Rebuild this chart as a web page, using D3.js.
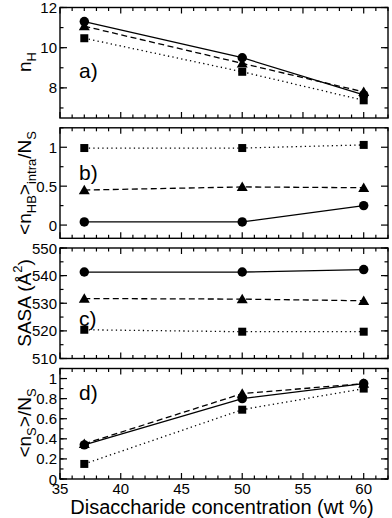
<!DOCTYPE html>
<html>
<head>
<meta charset="utf-8">
<script src="https://cdn.jsdelivr.net/npm/d3@7"></script>
<style>
  body { margin: 0; background: #fff; }
  text { font-family: "Liberation Sans", Arial, sans-serif; fill: #000; }
</style>
</head>
<body>
<svg id="chart" width="392" height="518"></svg>
<script>
// concentrations (wt %)
var conc = [37, 50, 60];

// a) n_H
var nH_circle   = [11.3, 9.5, 7.65];
var nH_triangle = [11.07, 9.22, 7.8];
var nH_square   = [10.47, 8.8, 7.38];

// b) <n_HB>_intra / N_S
var hb_circle   = [0.04, 0.04, 0.25];
var hb_triangle = [0.45, 0.49, 0.48];
var hb_square   = [0.99, 0.99, 1.03];

// c) SASA
var sasa_circle   = [541.3, 541.3, 542.2];
var sasa_triangle = [531.7, 531.5, 530.9];
var sasa_square   = [520.4, 519.7, 519.7];

// d) <n_S> / N_S
var ns_circle   = [0.34, 0.80, 0.95];
var ns_triangle = [0.35, 0.85, 0.95];
var ns_square   = [0.15, 0.69, 0.90];

var xTicks = [35, 40, 45, 50, 55, 60];

var svg = d3.select('#chart');
var left = 60, right = 388, panel_h = 110.5;

var x = d3.scaleLinear().domain([35, 62]).range([left, right]);

var panels = [
  { top: 7.5,   domain: [6.5, 12],     major: [8, 10, 12], minor: d3.range(7, 12.1, 1),
    fmt: d3.format('d'), letter: 'a)', letter_y: 70,
    series: [nH_circle, nH_triangle, nH_square] },
  { top: 127.8, domain: [-0.17, 1.25], major: [0, 0.5, 1], minor: [0.25, 0.75, 1.25],
    fmt: function(d){ return d === 0 ? '0' : d === 1 ? '1' : d; }, letter: 'b)', letter_y: 52,
    series: [hb_circle, hb_triangle, hb_square] },
  { top: 248,   domain: [510, 550],    major: [510, 520, 530, 540, 550], minor: d3.range(510, 551, 5),
    fmt: d3.format('d'), letter: 'c)', letter_y: 78,
    series: [sasa_circle, sasa_triangle, sasa_square] },
  { top: 368.5, domain: [0, 1.1],      major: [0, 0.2, 0.4, 0.6, 0.8, 1], minor: d3.range(0, 1.11, 0.1),
    fmt: function(d){ return d === 0 ? '0' : d === 1 ? '1' : d3.format('.1f')(d); }, letter: 'd)', letter_y: 31,
    series: [ns_circle, ns_triangle, ns_square] }
];

var dashes = [null, '6,3.5', '1.3,3.2'];
var shapes = ['circle', 'triangle', 'square'];

panels.forEach(function(p, pi) {
  var y = d3.scaleLinear().domain(p.domain).range([p.top + panel_h, p.top]);
  var g = svg.append('g').attr('class', 'panel');

  // lines
  p.series.forEach(function(vals, si) {
    var line = d3.line()
      .x(function(d, i){ return x(conc[i]); })
      .y(function(d){ return y(d); });
    g.append('path')
      .datum(vals)
      .attr('d', line)
      .attr('fill', 'none')
      .attr('stroke', '#000')
      .attr('stroke-width', 1.3)
      .attr('stroke-dasharray', dashes[si]);
  });

  // markers, squares first so circles sit on top
  [2, 1, 0].forEach(function(si) {
    var vals = p.series[si];
    var sym = shapes[si] === 'circle' ? d3.symbolCircle :
              shapes[si] === 'triangle' ? d3.symbolTriangle : d3.symbolSquare;
    var size = shapes[si] === 'circle' ? 70 : shapes[si] === 'triangle' ? 52 : 64;
    g.selectAll('.m' + si)
      .data(vals)
      .enter()
      .append('path')
      .attr('d', d3.symbol().type(sym).size(size))
      .attr('transform', function(d, i) {
        var dy = shapes[si] === 'triangle' ? 1 : 0;
        return 'translate(' + x(conc[i]) + ',' + (y(d) + dy) + ')';
      })
      .attr('fill', '#000');
  });

  // inward ticks, all four sides
  var frame = g.append('g').attr('class', 'frame');
  var x0 = left, x1 = right, y0 = p.top, y1 = p.top + panel_h;
  d3.range(35, 62.1, 1).forEach(function(v) {
    var len = v % 5 === 0 ? 6 : 3.5;
    frame.append('line').attr('x1', x(v)).attr('x2', x(v)).attr('y1', y1).attr('y2', y1 - len);
    frame.append('line').attr('x1', x(v)).attr('x2', x(v)).attr('y1', y0).attr('y2', y0 + len);
  });
  p.minor.forEach(function(v) {
    frame.append('line').attr('x1', x0).attr('x2', x0 + 3.5).attr('y1', y(v)).attr('y2', y(v));
    frame.append('line').attr('x1', x1).attr('x2', x1 - 3.5).attr('y1', y(v)).attr('y2', y(v));
  });
  p.major.forEach(function(v) {
    frame.append('line').attr('x1', x0).attr('x2', x0 + 7).attr('y1', y(v)).attr('y2', y(v));
    frame.append('line').attr('x1', x1).attr('x2', x1 - 7).attr('y1', y(v)).attr('y2', y(v));
  });
  frame.selectAll('line').attr('stroke', '#000').attr('stroke-width', 1.2);
  frame.append('rect')
    .attr('x', x0).attr('y', y0).attr('width', x1 - x0).attr('height', panel_h)
    .attr('fill', 'none').attr('stroke', '#000').attr('stroke-width', 1.4);

  // y tick labels
  g.selectAll('.ylab')
    .data(p.major)
    .enter()
    .append('text')
    .attr('x', left - 3)
    .attr('y', function(d){ return y(d) + 5.5; })
    .attr('text-anchor', 'end')
    .attr('font-size', 15)
    .text(p.fmt);

  // panel letter
  g.append('text')
    .attr('x', 79)
    .attr('y', p.top + p.letter_y)
    .attr('font-size', 21)
    .text(p.letter);

  // x tick labels only on bottom panel
  if (pi === panels.length - 1) {
    g.selectAll('.xlab')
      .data(xTicks)
      .enter()
      .append('text')
      .attr('x', function(d){ return x(d); })
      .attr('y', y1 + 15)
      .attr('text-anchor', 'middle')
      .attr('font-size', 15)
      .text(function(d){ return d; });
  }
});

// y axis titles
function ytitle(cy, build) {
  var t = svg.append('text')
    .attr('transform', 'translate(31,' + cy + ') rotate(-90)')
    .attr('text-anchor', 'middle')
    .attr('font-size', 19);
  build(t);
}

ytitle(62, function(t) {
  t.append('tspan').text('n');
  t.append('tspan').attr('dy', 5).attr('font-size', 13).text('H');
});
ytitle(183, function(t) {
  t.append('tspan').text('<n');
  t.append('tspan').attr('dy', 5).attr('font-size', 13).text('HB');
  t.append('tspan').attr('dy', -5).text('>');
  t.append('tspan').attr('dy', 5).attr('font-size', 13).text('intra');
  t.append('tspan').attr('dy', -5).text('/N');
  t.append('tspan').attr('dy', 5).attr('font-size', 13).text('S');
});
ytitle(303, function(t) {
  t.append('tspan').text('SASA (Å');
  t.append('tspan').attr('dy', -9).attr('font-size', 13).text('2');
  t.append('tspan').attr('dy', 9).text(')');
});
ytitle(423, function(t) {
  t.append('tspan').text('<n');
  t.append('tspan').attr('dy', 5).attr('font-size', 13).text('S');
  t.append('tspan').attr('dy', -5).text('>/N');
  t.append('tspan').attr('dy', 5).attr('font-size', 13).text('S');
});

// x axis title
svg.append('text')
  .attr('x', (left + right) / 2 - 2)
  .attr('y', 514)
  .attr('text-anchor', 'middle')
  .attr('font-size', 20)
  .text('Disaccharide concentration (wt %)');
</script>
</body>
</html>
